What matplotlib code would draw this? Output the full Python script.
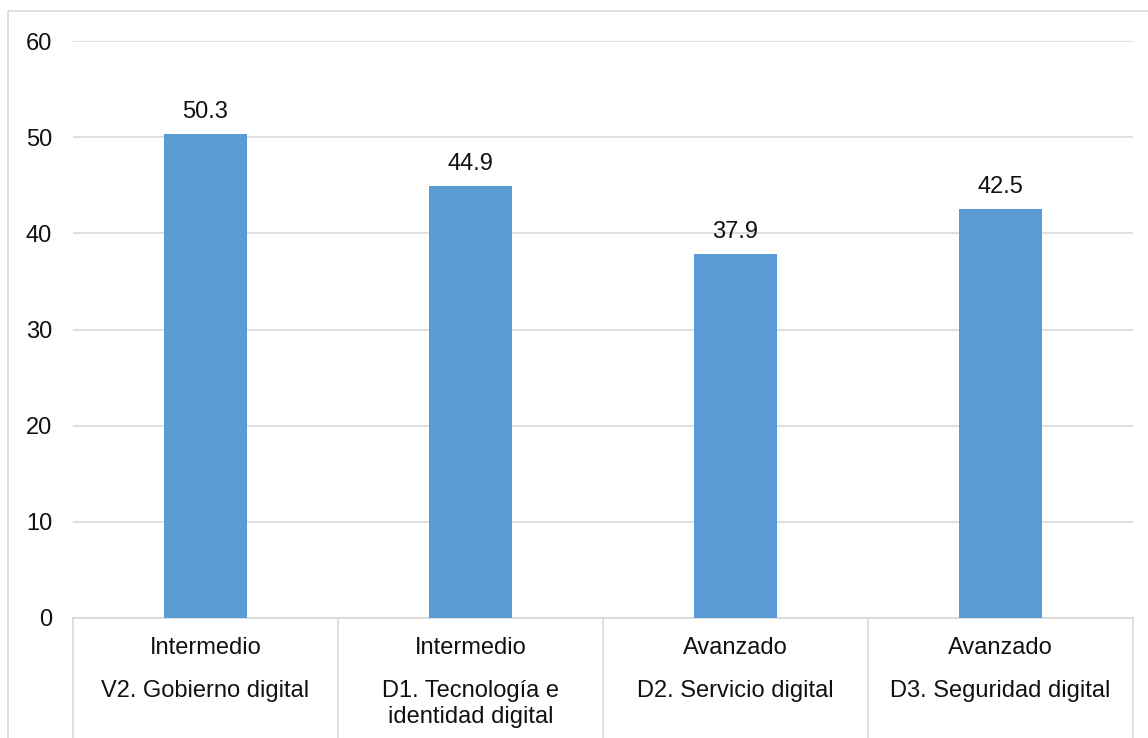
import matplotlib
matplotlib.use("Agg")
import matplotlib.pyplot as plt
from matplotlib.patches import Rectangle

plt.rcParams['font.family'] = ['Liberation Sans', 'DejaVu Sans']

levels = ["Intermedio", "Intermedio", "Avanzado", "Avanzado"]
dimensions = ["V2. Gobierno digital", "D1. Tecnología e\nidentidad digital",
              "D2. Servicio digital", "D3. Seguridad digital"]
values = [50.3, 44.9, 37.9, 42.5]
yticks = [0, 10, 20, 30, 40, 50, 60]

W, H = 1148, 738
fig = plt.figure(figsize=(W / 100, H / 100), dpi=100)
ax = fig.add_axes([73 / W, (H - 618) / H, 1060 / W, 577 / H])

bar_color = "#5B9BD5"
grid_color = "#D9D9D9"
text_color = "#111111"
fs = 17

x = list(range(len(values)))
ax.bar(x, values, width=0.313, color=bar_color, zorder=3)

for xi, v in zip(x, values):
    ax.annotate(f"{v:.1f}", (xi, v), xytext=(0, 11.5), textcoords="offset points",
                ha="center", va="baseline", fontsize=fs, color=text_color)

ax.set_xlim(-0.5, len(values) - 0.5)
ax.set_ylim(0, 60)
ax.set_yticks(yticks)
ax.set_yticklabels([str(t) for t in yticks])
ax.tick_params(axis="y", length=0, pad=15, labelsize=fs, labelcolor=text_color)
ax.set_xticks([])
ax.grid(axis="y", color=grid_color, linewidth=1.2, zorder=0)
for s in ["top", "right", "left"]:
    ax.spines[s].set_visible(False)
ax.spines["bottom"].set_color(grid_color)
ax.spines["bottom"].set_linewidth(1.2)

trans = ax.get_xaxis_transform()
ybot = -(H - 618 + 5) / 577
for b in [i - 0.5 for i in range(len(values) + 1)]:
    ax.plot([b, b], [0, ybot], color=grid_color, lw=1.2, transform=trans, clip_on=False)

px = 1 / 577
for xi, lev, dim in zip(x, levels, dimensions):
    ax.text(xi, -(654 - 618) * px, lev, transform=trans, ha="center", va="baseline",
            fontsize=fs, color=text_color)
    for j, line in enumerate(dim.split("\n")):
        ax.text(xi, -(697 + 26 * j - 618) * px, line, transform=trans, ha="center",
                va="baseline", fontsize=fs, color=text_color)

fig.patches.append(Rectangle((8 / W, -0.05), 1.1, (H - 11) / H + 0.05,
                             transform=fig.transFigure, fill=False,
                             edgecolor=grid_color, lw=1.2))

fig.savefig("out.png", dpi=100)
